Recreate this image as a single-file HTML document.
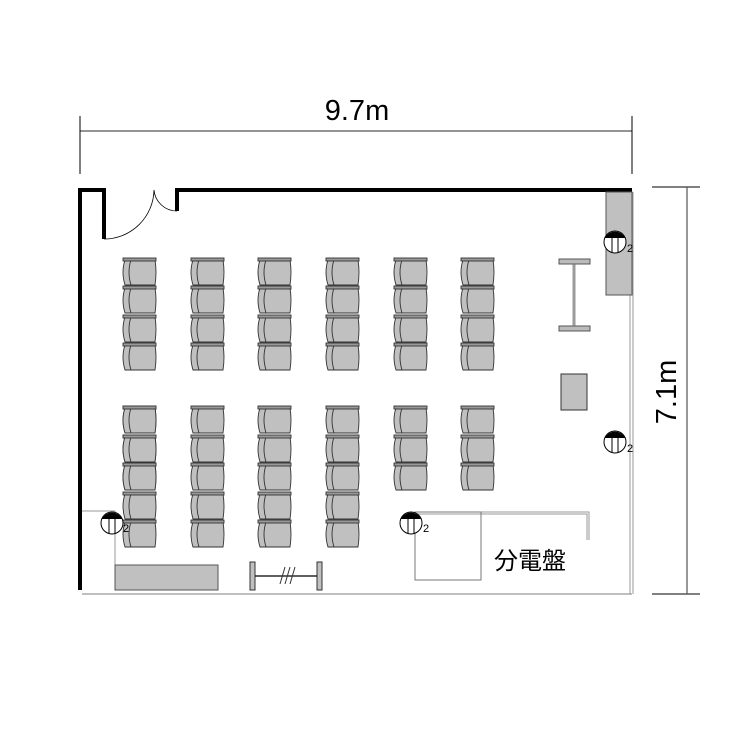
<!DOCTYPE html>
<html><head><meta charset="utf-8"><style>body{margin:0;background:#fff}svg{display:block}</style></head><body>
<svg width="750" height="750" viewBox="0 0 750 750" xmlns="http://www.w3.org/2000/svg">
<defs>
<g id="c">
<path d="M4,2 Q0,14 4,27 L34,27 Q36,14 34,2 Z" fill="#c0c0c0" stroke="#333" stroke-width="0.9"/>
<path d="M10,2 Q6,14 10,27" fill="none" stroke="#333" stroke-width="0.9"/>
<rect x="2" y="0" width="33" height="3" fill="#999" stroke="#333" stroke-width="0.9"/>
</g>
<g id="o">
<circle cx="0" cy="0" r="11" fill="#fff" stroke="#000" stroke-width="1"/>
<path d="M-10,-4 A11,11 0 0 1 10,-4 Z" fill="#000"/>
<line x1="-3" y1="-4" x2="-3" y2="11" stroke="#000"/>
<line x1="3" y1="-4" x2="3" y2="11" stroke="#000"/>
</g>
</defs>
<line x1="80" y1="131" x2="632" y2="131" stroke="#555" stroke-width="1.2"/>
<line x1="80" y1="116" x2="80" y2="174" stroke="#000"/>
<line x1="632" y1="116" x2="632" y2="174" stroke="#000"/>
<text x="357" y="120" font-family="Liberation Sans, sans-serif" font-size="29" text-anchor="middle">9.7m</text>
<line x1="652" y1="187" x2="700" y2="187" stroke="#000"/>
<line x1="652" y1="594" x2="700" y2="594" stroke="#000"/>
<line x1="687" y1="187" x2="687" y2="594" stroke="#555" stroke-width="1.2"/>
<text transform="translate(676,392) rotate(-90)" font-family="Liberation Sans, sans-serif" font-size="29" text-anchor="middle">7.1m</text>
<path d="M104,239 L104,190 L80,190 L80,590" fill="none" stroke="#000" stroke-width="4"/>
<path d="M177,211 L177,190 L632,190" fill="none" stroke="#000" stroke-width="4"/>
<path d="M104,239 A50,50 0 0 0 154,190 A23,23 0 0 0 177,211" fill="none" stroke="#000" stroke-width="0.8"/>
<line x1="82" y1="594" x2="632" y2="594" stroke="#999" stroke-width="1.2"/>
<line x1="630" y1="192" x2="630" y2="594" stroke="#999" stroke-width="1"/>
<line x1="633" y1="192" x2="633" y2="594" stroke="#999" stroke-width="1"/>
<g id="top">
<use href="#c" x="121" y="258"/><use href="#c" x="121" y="286"/><use href="#c" x="121" y="315"/><use href="#c" x="121" y="343"/>
</g>
<use href="#top" x="68"/><use href="#top" x="135"/><use href="#top" x="203"/><use href="#top" x="271"/><use href="#top" x="338"/>
<g id="b3">
<use href="#c" x="121" y="406"/><use href="#c" x="121" y="435"/><use href="#c" x="121" y="463"/>
</g>
<g id="b5"><use href="#b3"/><use href="#c" x="121" y="492"/><use href="#c" x="121" y="520"/></g>
<use href="#b5" x="68"/><use href="#b5" x="135"/><use href="#b5" x="203"/><use href="#b3" x="271"/><use href="#b3" x="338"/>
<rect x="606" y="192" width="26" height="103" fill="#c0c0c0" stroke="#555"/>
<rect x="559" y="259" width="31" height="5" fill="#bbb" stroke="#555"/>
<rect x="559" y="326" width="31" height="5" fill="#bbb" stroke="#555"/>
<rect x="573" y="264" width="2" height="62" fill="#bbb" stroke="#555" stroke-width="0.6"/>
<rect x="561" y="374" width="26" height="36" fill="#c0c0c0" stroke="#333"/>
<path d="M415,512 L589,512 L589,540 M415,514 L587,514 L587,540" fill="none" stroke="#999"/>
<rect x="415" y="512" width="66" height="68" fill="none" stroke="#777"/>
<text x="530" y="569" font-family="Liberation Sans, 'Noto Sans CJK JP', sans-serif" font-size="24" text-anchor="middle">分電盤</text>
<path d="M82,511 L115,511 L115,565" fill="none" stroke="#999"/>
<rect x="115" y="565" width="103" height="25" fill="#c0c0c0" stroke="#555"/>
<rect x="250" y="562" width="5" height="28" fill="#c0c0c0" stroke="#333"/>
<rect x="317" y="562" width="5" height="28" fill="#c0c0c0" stroke="#333"/>
<line x1="255" y1="576" x2="317" y2="576" stroke="#000" stroke-width="1.2"/>
<path d="M280,584 L285,567 M285,584 L290,567 M290,584 L295,567" stroke="#333"/>
<use href="#o" x="615" y="242"/><use href="#o" x="615" y="442"/><use href="#o" x="411" y="523"/><use href="#o" x="112" y="523"/>
<g font-family="Liberation Sans, sans-serif" font-size="11">
<text x="627" y="252">2</text><text x="627" y="452">2</text><text x="423" y="532">2</text><text x="123" y="532">2</text>
</g>
</svg>
</body></html>
